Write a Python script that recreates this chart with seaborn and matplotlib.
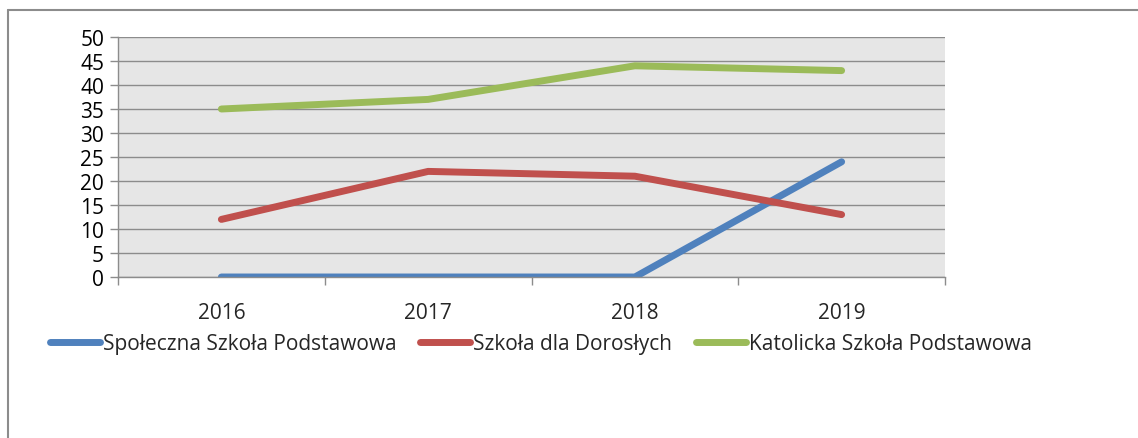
import matplotlib
matplotlib.use("Agg")
import matplotlib.pyplot as plt
import pandas as pd
import seaborn as sns
from matplotlib.lines import Line2D
from matplotlib.ticker import FixedLocator

# chart data
years = ["2016", "2017", "2018", "2019"]
spoleczna = [0, 0, 0, 24]
dorosli = [12, 22, 21, 13]
katolicka = [35, 37, 44, 43]
series_names = [
    "Społeczna Szkoła Podstawowa",
    "Szkoła dla Dorosłych",
    "Katolicka Szkoła Podstawowa",
]

df = pd.DataFrame(
    {
        "year": years * 3,
        "value": spoleczna + dorosli + katolicka,
        "series": [series_names[0]] * 4 + [series_names[1]] * 4 + [series_names[2]] * 4,
    }
)

sns.set_style("white")
plt.rcParams["font.family"] = ["Open Sans", "DejaVu Sans"]

fig = plt.figure(figsize=(11.38, 4.39), dpi=100)
ax = fig.add_axes([118 / 1138, 1 - 278 / 439, 827 / 1138, 240 / 439])

palette = ["#4F81BD", "#C0504D", "#9BBB59"]
sns.lineplot(
    data=df,
    x="year",
    y="value",
    hue="series",
    hue_order=series_names,
    palette=palette,
    linewidth=5,
    solid_capstyle="round",
    ax=ax,
    legend=False,
)

ax.set_facecolor("#E6E6E6")
ax.set_xlim(-0.5, 3.5)
ax.set_ylim(0, 50)
ax.set_yticks(range(0, 51, 5))
ax.yaxis.grid(True, color="#8C8C8C", linewidth=1.0)
ax.set_axisbelow(True)
ax.set_xlabel("")
ax.set_ylabel("")

for side in ["top", "right"]:
    ax.spines[side].set_visible(False)
for side in ["left", "bottom"]:
    ax.spines[side].set_color("#8C8C8C")
    ax.spines[side].set_linewidth(1.0)

ax.tick_params(axis="y", left=True, length=6, width=1, color="#8C8C8C",
               labelsize=15, pad=4, labelcolor="black")
ax.tick_params(axis="x", which="major", bottom=False, length=0, labelsize=15, pad=18)
ax.xaxis.set_minor_locator(FixedLocator([-0.5, 0.5, 1.5, 2.5, 3.5]))
ax.tick_params(axis="x", which="minor", bottom=True, length=6, width=1, color="#8C8C8C")

handles = [
    Line2D([0], [0], color=c, linewidth=5, solid_capstyle="round") for c in palette
]
fig.legend(
    handles,
    series_names,
    loc="center",
    bbox_to_anchor=(541 / 1138, 1 - 345 / 439),
    ncol=3,
    frameon=False,
    fontsize=15,
    handlelength=2.4,
    handletextpad=0.15,
    columnspacing=1.15,
)

# outer chart border (left and top only)
fig.add_artist(Line2D([7.5 / 1138, 7.5 / 1138], [0, 1 - 11 / 439],
                      transform=fig.transFigure, color="#8C8C8C", linewidth=1.5))
fig.add_artist(Line2D([7.5 / 1138, 1], [1 - 11 / 439, 1 - 11 / 439],
                      transform=fig.transFigure, color="#8C8C8C", linewidth=1.5))

fig.savefig("out.png", dpi=100)
